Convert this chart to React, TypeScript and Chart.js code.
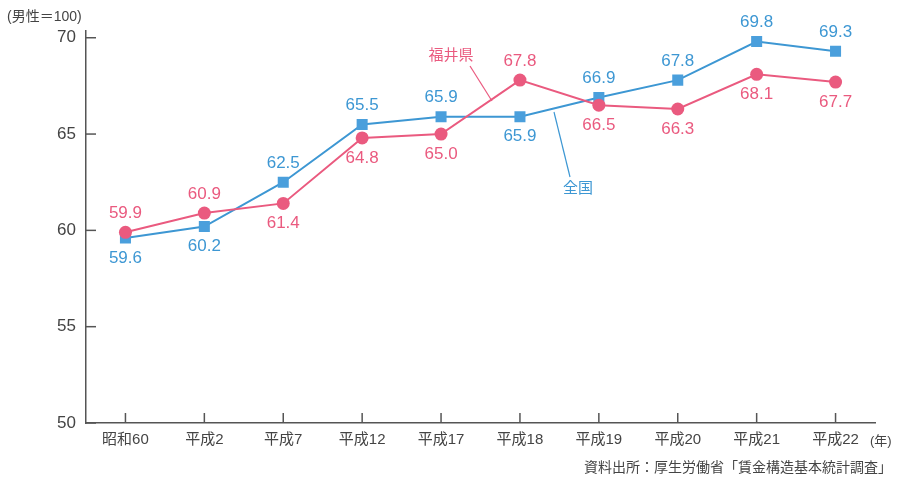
import React, { useEffect, useRef } from "react";
import { Chart, registerables } from "chart.js";

Chart.register(...registerables);

const categories = ["昭和60", "平成2", "平成7", "平成12", "平成17", "平成18", "平成19", "平成20", "平成21", "平成22"];
const fukui = [59.9, 60.9, 61.4, 64.8, 65.0, 67.8, 66.5, 66.3, 68.1, 67.7];
const zenkoku = [59.6, 60.2, 62.5, 65.5, 65.9, 65.9, 66.9, 67.8, 69.8, 69.3];
const yTicks = [50, 55, 60, 65, 70];

const PINK = "#ea5a7f";
const BLUE = "#3d97d3";
const AXIS = "#555";
const FONT = "'Liberation Sans', 'Noto Sans CJK JP', sans-serif";

const decorPlugin = {
  id: "decor",
  afterDraw(chart: any) {
    const ctx = chart.ctx;
    const x = chart.scales.x;
    const y = chart.scales.y;
    const area = chart.chartArea;
    ctx.save();
    // inward tick marks
    ctx.strokeStyle = AXIS;
    ctx.lineWidth = 1.5;
    yTicks.forEach((v) => {
      const py = y.getPixelForValue(v);
      ctx.beginPath();
      ctx.moveTo(area.left, py);
      ctx.lineTo(area.left + 10, py);
      ctx.stroke();
    });
    categories.forEach((_, i) => {
      const px = x.getPixelForValue(i);
      ctx.beginPath();
      ctx.moveTo(px, area.bottom);
      ctx.lineTo(px, area.bottom - 10);
      ctx.stroke();
    });

    // value labels
    ctx.font = `17px ${FONT}`;
    ctx.textAlign = "center";
    ctx.textBaseline = "middle";
    const drawLabels = (vals: number[], other: number[], color: string) => {
      ctx.fillStyle = color;
      vals.forEach((v, i) => {
        const px = x.getPixelForValue(i);
        const py = y.getPixelForValue(v);
        const above = v > other[i];
        ctx.fillText(v.toFixed(1), px, above ? py - 19 : py + 20);
      });
    };
    drawLabels(fukui, zenkoku, PINK);
    drawLabels(zenkoku, fukui, BLUE);

    // series annotations with leader lines
    ctx.lineWidth = 1.2;
    ctx.strokeStyle = PINK;
    ctx.beginPath();
    ctx.moveTo(470, 66);
    ctx.lineTo(492, 101);
    ctx.stroke();
    ctx.fillStyle = PINK;
    ctx.font = `15px ${FONT}`;
    ctx.fillText("福井県", 451, 56);

    ctx.strokeStyle = BLUE;
    ctx.beginPath();
    ctx.moveTo(554, 112);
    ctx.lineTo(570, 177);
    ctx.stroke();
    ctx.fillStyle = BLUE;
    ctx.fillText("全国", 578, 189);

    // other texts
    ctx.fillStyle = "#444";
    ctx.font = `14px ${FONT}`;
    ctx.textAlign = "left";
    ctx.fillText("(男性＝100)", 7, 17);
    ctx.font = `13px ${FONT}`;
    ctx.fillText("(年)", 870, 441);
    ctx.font = `14px ${FONT}`;
    ctx.textAlign = "right";
    ctx.fillText("資料出所：厚生労働省「賃金構造基本統計調査」", 892, 468);
    ctx.restore();
  },
};

export default function App() {
  const ref = useRef<HTMLCanvasElement>(null);
  useEffect(() => {
    document.body.style.margin = "0";
    const chart = new Chart(ref.current!, {
      type: "line",
      data: {
        labels: categories,
        datasets: [
          {
            label: "福井県",
            data: fukui,
            borderColor: PINK,
            backgroundColor: PINK,
            borderWidth: 2,
            pointStyle: "circle",
            pointRadius: 6.5,
            pointBorderWidth: 0,
            tension: 0,
          },
          {
            label: "全国",
            data: zenkoku,
            borderColor: BLUE,
            backgroundColor: "#4a9fdc",
            borderWidth: 2,
            pointStyle: "rect",
            pointRadius: 7.8,
            pointBorderWidth: 0,
            tension: 0,
          },
        ],
      },
      options: {
        responsive: false,
        animation: false,
        devicePixelRatio: 1,
        layout: { padding: { left: 0, right: 27, top: 31, bottom: 0 } },
        plugins: { legend: { display: false }, tooltip: { enabled: false } },
        scales: {
          x: {
            offset: true,
            grid: { display: false, drawTicks: false },
            border: { display: true, color: AXIS, width: 1.5 },
            ticks: { color: "#444", font: { size: 15, family: FONT }, padding: 8, maxRotation: 0, autoSkip: false },
            afterFit(s: any) {
              s.height = 61;
            },
          },
          y: {
            min: 50,
            max: 70.35,
            grid: { display: false, drawTicks: false },
            border: { display: true, color: AXIS, width: 1.5 },
            ticks: { color: "#444", font: { size: 17, family: FONT }, padding: 10 },
            afterBuildTicks(s: any) {
              s.ticks = yTicks.map((v) => ({ value: v }));
            },
            afterFit(s: any) {
              s.width = 86;
            },
          },
        },
      },
      plugins: [decorPlugin],
    });
    return () => chart.destroy();
  }, []);
  return (
    <div style={{ width: 902, height: 484, background: "#fff" }}>
      <canvas ref={ref} width={902} height={484} />
    </div>
  );
}
